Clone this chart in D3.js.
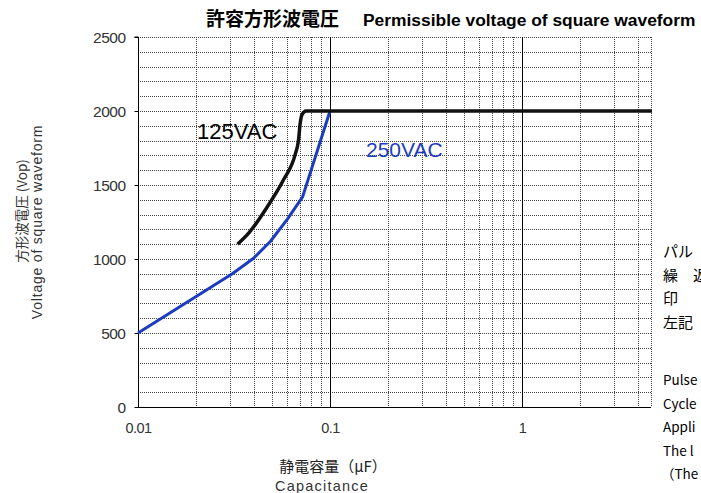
<!DOCTYPE html>
<html>
<head>
<meta charset="utf-8">
<script src="https://cdn.jsdelivr.net/npm/d3@7"></script>
<style>
  body { margin: 0; background: #fff; }
  svg { display: block; font-family: "Liberation Sans", "Noto Sans CJK JP", sans-serif; }
</style>
</head>
<body>
<svg id="chart" width="701" height="493"></svg>
<script>
// data
const xTickValues = [0.01, 0.1, 1];
const xTickLabels = ["0.01", "0.1", "1"];
const yTickValues = [0, 500, 1000, 1500, 2000, 2500];
const xMax = 4.75; // plot is cut at the right edge

const series125 = [
    [0.033, 1100], [0.038, 1180], [0.047, 1350], [0.057, 1530],
    [0.066, 1710], [0.0685, 1800], [0.070, 1920], [0.0715, 1975],
    [0.075, 2000], [xMax, 2000]
];
const series250 = [
    [0.01, 500], [0.031, 900], [0.040, 1005], [0.049, 1120],
    [0.060, 1270], [0.072, 1420], [0.1, 2000]
];

// side notes, cut off by the picture's right edge
const notesJa = ["パル", "繰　返", "印", "左記"];
const notesEn = ["Pulse", "Cycle", "Appli", "The l", "（The"];

const svg = d3.select('#chart');
const plotLeft = 138, plotRight = 651, plotTop = 37, plotBottom = 407;

const x = d3.scaleLog().domain([0.01, 1]).range([plotLeft, 522]);
const y = d3.scaleLinear().domain([0, 2500]).range([plotBottom, plotTop]);

// minor grid values 2..9 per decade
const minorX = [];
[0.01, 0.1, 1].forEach(function (d) {
    for (let k = 2; k <= 9; k++) {
        const v = d * k;
        if (x(v) < plotRight - 1) minorX.push(v);
    }
});

const gridG = svg.append("g");
// horizontal dotted grid every 100
gridG.selectAll("line.h")
    .data(d3.range(100, 2600, 100))
    .enter().append("line")
    .attr("x1", plotLeft).attr("x2", plotRight)
    .attr("y1", d => Math.round(y(d)) + 0.5).attr("y2", d => Math.round(y(d)) + 0.5)
    .attr("stroke", "#444")
    .attr("stroke-width", 1)
    .attr("stroke-dasharray", "1,1");

// vertical dotted minor grid
gridG.selectAll("line.v")
    .data(minorX)
    .enter().append("line")
    .attr("x1", d => Math.round(x(d)) + 0.5).attr("x2", d => Math.round(x(d)) + 0.5)
    .attr("y1", plotTop).attr("y2", plotBottom)
    .attr("stroke", "#444")
    .attr("stroke-width", 1)
    .attr("stroke-dasharray", "1,1");

// right border dotted
gridG.append("line")
    .attr("x1", plotRight + 0.5).attr("x2", plotRight + 0.5)
    .attr("y1", plotTop).attr("y2", plotBottom)
    .attr("stroke", "#444")
    .attr("stroke-dasharray", "1,1");

// solid decade lines
gridG.selectAll("line.dec")
    .data([0.1, 1])
    .enter().append("line")
    .attr("x1", d => Math.round(x(d)) + 0.5).attr("x2", d => Math.round(x(d)) + 0.5)
    .attr("y1", plotTop).attr("y2", plotBottom)
    .attr("stroke", "#000")
    .attr("stroke-width", 1);

// axes
const yAxis = d3.axisLeft(y).tickValues(yTickValues).tickSize(4).tickFormat(d3.format("d"));
const yG = svg.append("g")
    .attr("transform", `translate(${plotLeft + 0.5},0)`)
    .call(yAxis);
yG.select(".domain").attr("stroke", "#000").attr("d", `M-4,${plotTop}H0V${plotBottom}`);
yG.selectAll("text")
    .attr("x", -13)
    .attr("dy", "0.36em")
    .attr("font-size", 15.5)
    .attr("fill", "#333")
    .attr("font-family", "'Liberation Sans', sans-serif")
    .attr("letter-spacing", "-0.5px");

const xAxis = d3.axisBottom(x).tickValues(xTickValues).tickSize(0)
    .tickFormat((d, i) => xTickLabels[i]);
const xG = svg.append("g")
    .attr("transform", `translate(0,${plotBottom + 0.5})`)
    .call(xAxis);
xG.select(".domain").attr("stroke", "#000").attr("d", `M${plotLeft},0H${plotRight}`);
xG.selectAll("text")
    .attr("y", 15)
    .attr("font-size", 14.5)
    .attr("fill", "#333")
    .attr("font-family", "'Liberation Sans', sans-serif")
    .attr("letter-spacing", "-0.5px");

// lines
const line250 = d3.line()
    .x(d => x(d[0]))
    .y(d => y(d[1]));
const line125 = d3.line()
    .x(d => x(d[0]))
    .y(d => y(d[1]))
    .curve(d3.curveMonotoneX);

svg.append("path")
    .datum(series250)
    .attr("d", line250)
    .attr("fill", "none")
    .attr("stroke", "#1c3cc0")
    .attr("stroke-width", 3)
    .attr("stroke-linejoin", "round");

svg.append("path")
    .datum(series125)
    .attr("d", line125)
    .attr("fill", "none")
    .attr("stroke", "#111")
    .attr("stroke-width", 3.5);

// series labels
svg.append("text")
    .attr("x", 197).attr("y", 139)
    .attr("font-size", 22)
    .attr("fill", "#000")
    .text("125VAC");
svg.append("text")
    .attr("x", 366).attr("y", 157)
    .attr("font-size", 21)
    .attr("fill", "#1c3cc0")
    .text("250VAC");

// title
svg.append("text")
    .attr("x", 206).attr("y", 26)
    .attr("font-size", 19)
    .attr("font-weight", "bold")
    .attr("font-family", "'Noto Sans CJK JP', sans-serif")
    .text("許容方形波電圧");
svg.append("text")
    .attr("x", 363).attr("y", 26)
    .attr("font-size", 17.4)
    .attr("font-weight", "bold")
    .text("Permissible voltage of square waveform");

// y title
svg.append("text")
    .attr("transform", "translate(21,211) rotate(-90)")
    .attr("text-anchor", "middle")
    .attr("dominant-baseline", "central")
    .attr("font-size", 13.5)
    .attr("fill", "#333")
    .attr("font-family", "'Noto Sans CJK JP', sans-serif")
    .text("方形波電圧 (Vop)");
svg.append("text")
    .attr("transform", "translate(37,222) rotate(-90)")
    .attr("text-anchor", "middle")
    .attr("dominant-baseline", "central")
    .attr("font-size", 14)
    .attr("letter-spacing", "0.8px")
    .attr("fill", "#333")
    .text("Voltage of square waveform");

// x title
svg.append("text")
    .attr("x", 333).attr("y", 472)
    .attr("text-anchor", "middle")
    .attr("font-size", 15)
    .attr("fill", "#222")
    .attr("font-family", "'Noto Sans CJK JP', sans-serif")
    .text("静電容量（μF）");
svg.append("text")
    .attr("x", 322).attr("y", 491)
    .attr("text-anchor", "middle")
    .attr("font-size", 14.5)
    .attr("letter-spacing", "1.2px")
    .attr("fill", "#333")
    .text("Capacitance");

svg.append("g").selectAll("text")
    .data(notesJa)
    .enter().append("text")
    .attr("x", 663).attr("y", (d, i) => 257 + i * 23.5)
    .attr("font-size", 15)
    .attr("font-family", "'Noto Sans CJK JP', sans-serif")
    .text(d => d);
svg.append("g").selectAll("text")
    .data(notesEn)
    .enter().append("text")
    .attr("x", (d, i) => i === 4 ? 661 : 663).attr("y", (d, i) => 385 + i * 23.5)
    .attr("font-size", 13.5)
    .attr("font-family", "'Noto Sans CJK JP', sans-serif")
    .text(d => d);
</script>
</body>
</html>
